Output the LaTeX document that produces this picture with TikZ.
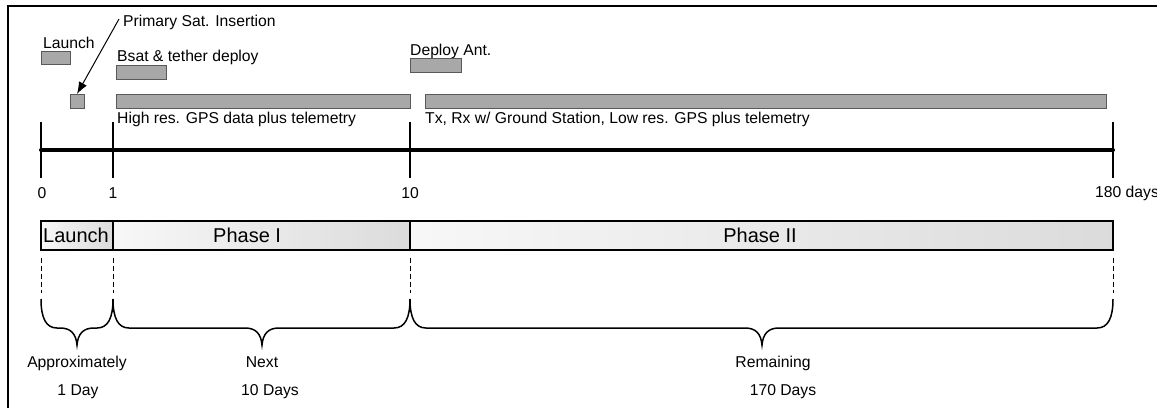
\documentclass[tikz,border=0pt]{standalone}
\usepackage{fontspec}
\setmainfont{Liberation Sans}
\usetikzlibrary{arrows.meta}
\tikzset{
  txt/.style = {inner sep=0pt, anchor=base west, font=\fontsize{15.7}{18}\selectfont},
  num/.style = {inner sep=0pt, anchor=base, font=\fontsize{15.7}{18}\selectfont},
  bigtxt/.style = {inner sep=0pt, anchor=base west, font=\fontsize{20}{24}\selectfont},
  bar/.style = {draw=black!65, fill=black!34, line width=1pt, inner sep=0pt, outer sep=0pt, anchor=north west},
  phase/.style = {draw, line width=2pt, left color=black!3, right color=black!14, inner sep=0pt, outer sep=0pt, anchor=north west, minimum height=29pt},
  tick/.style = {line width=1.3pt},
  guide/.style = {line width=1pt, dash pattern=on 5pt off 3pt},
  brace/.style = {line width=1.5pt},
}

\begin{document}
\begin{tikzpicture}[x=1pt,y=-1pt]
\useasboundingbox (0,0) rectangle (1157,408);
\draw[line width=2.5pt] (8,408) -- (8,6) -- (1157,6);

% events above the time line
\node[txt] (ins) at (123,26) {Primary Sat. Insertion};
\node[txt] (launch) at (43,48) {Launch};
\node[txt] (bsat) at (117,61) {Bsat \& tether deploy};
\node[txt] (deploy) at (410,55) {Deploy Ant.};
\node[bar, minimum width=29pt, minimum height=13pt] (launchbar) at (41,51) {};
\node[bar, minimum width=14pt, minimum height=14pt] (insbox) at (70,94) {};
\node[bar, minimum width=50pt, minimum height=14pt] (bsatbar) at (116,65) {};
\node[bar, minimum width=51pt, minimum height=14pt] (antbar) at (410,58) {};
\node[bar, minimum width=294pt, minimum height=14pt] (hresbar) at (116,94) {};
\node[bar, minimum width=681pt, minimum height=14pt] (txbar) at (425,94) {};
\node[txt] (hres) at (117,123) {High res. GPS data plus telemetry};
\node[txt] (tx) at (425,123) {Tx, Rx w/ Ground Station, Low res. GPS plus telemetry};
\coordinate (instail) at (119,19);
\draw[-{Latex[length=12pt,width=9pt]}, line width=1pt] (instail) -- (insbox.north);

% time line
\draw[line width=4pt, line cap=round] (41,150) -- (1113,150);
\foreach \x in {41,113,410,1113}
  \draw[tick] (\x,122) -- (\x,178);
\node[num] (d0) at (42,198) {0};
\node[num] (d1) at (113,198) {1};
\node[num] (d10) at (410,198) {10};
\node[txt] (d180) at (1095,197) {180 days};

% phases
\node[phase, minimum width=72pt] (launchph) at (41,221) {};
\node[phase, minimum width=297pt] (ph1) at (113,221) {};
\node[phase, minimum width=703pt] (ph2) at (410,221) {};
\node[bigtxt] (launchlbl) at (43,242) {Launch};
\node[bigtxt] (ph1lbl) at (213,242) {Phase I};
\node[bigtxt, anchor=base] (ph2lbl) at (760,242) {Phase II};

% durations
\foreach \x in {41,113,410,1113}
  \draw[guide] (\x,258) -- (\x,293);
\foreach \a/\m/\b in {41/77/113, 113/262/410, 410/762/1113}
  \draw[brace] (\a,299) .. controls (\a,318) and (\a+5,328) .. (\a+16,328)
    -- (\m-17,328) .. controls (\m-6,328) and (\m-1,334) .. (\m,345)
    .. controls (\m+1,334) and (\m+6,328) .. (\m+17,328)
    -- (\b-16,328) .. controls (\b-5,328) and (\b,318) .. (\b,299);
\node[num] (approx) at (77,367) {Approximately};
\node[num] (oneday) at (78,395) {1 Day};
\node[num] (next) at (262,367) {Next};
\node[num] (tendays) at (270,395) {10 Days};
\node[num] (remain) at (773,367) {Remaining};
\node[num] (rest) at (783,395) {170 Days};
\end{tikzpicture}
\end{document}
